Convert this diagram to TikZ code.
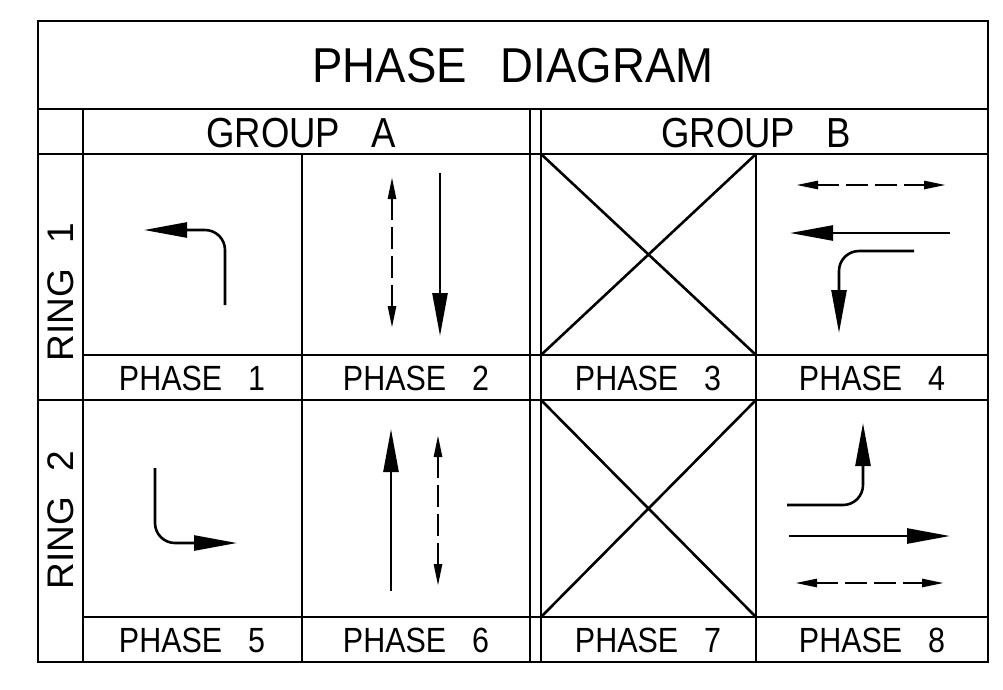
\documentclass[tikz,border=0pt]{standalone}
\usepackage{fontspec}
\setmainfont{Liberation Sans}
\usetikzlibrary{arrows.meta}
\newcommand\nar[1]{\scalebox{0.87}[1]{#1}}
\newcommand\narT[1]{\scalebox{0.93}[1]{#1}}
\begin{document}
\begin{tikzpicture}[x=1pt,y=-1pt,
  grid/.style={line width=2.6pt},
  arr/.style={line width=2.6pt, -{Triangle[length=43pt,width=15pt]}},
  darr/.style={line width=2.6pt, dash pattern=on 22pt off 7pt,
    {Triangle[length=22pt,width=8pt]}-{Triangle[length=22pt,width=8pt]}},
  title/.style={inner sep=0pt, font=\fontsize{49}{49}\selectfont},
  grp/.style={inner sep=0pt, font=\fontsize{42}{42}\selectfont},
  ring/.style={inner sep=0pt, rotate=90, font=\fontsize{37}{37}\selectfont},
  ph/.style={inner sep=0pt, font=\fontsize{35}{35}\selectfont},
]
\useasboundingbox (0,0) rectangle (1003,689);
% grid
\draw[grid] (38,21) rectangle (988,662);
\draw[grid] (38,109) -- (988,109);
\draw[grid] (38,154) -- (988,154);
\draw[grid] (83,355) -- (988,355);
\draw[grid] (38,400) -- (988,400);
\draw[grid] (83,617) -- (988,617);
\draw[grid] (83,109) -- (83,662);
\draw[grid] (302,154) -- (302,662);
\draw[grid] (530,109) -- (530,662);
\draw[grid] (541,109) -- (541,662);
\draw[grid] (756,154) -- (756,662);
% crosses
\draw[grid] (541,154) -- (756,355) (756,154) -- (541,355);
\draw[grid] (541,400) -- (756,617) (756,400) -- (541,617);
% texts
\node[title] (t) at (513,66) {\narT{PHASE\hspace{0.75em}DIAGRAM}};
\node[grp] (ga) at (301,133) {\nar{GROUP\hspace{0.85em}A}};
\node[grp] (gb) at (756,133) {\nar{GROUP\hspace{0.85em}B}};
\node[ring] (r1) at (61,292) {RING\hspace{0.7em}1};
\node[ring] (r2) at (61,520) {RING\hspace{0.7em}2};
\node[ph] (p1) at (192,378) {\nar{PHASE\hspace{0.85em}1}};
\node[ph] (p2) at (416,378) {\nar{PHASE\hspace{0.85em}2}};
\node[ph] (p3) at (648,378) {\nar{PHASE\hspace{0.85em}3}};
\node[ph] (p4) at (872,378) {\nar{PHASE\hspace{0.85em}4}};
\node[ph] (p5) at (192,640) {\nar{PHASE\hspace{0.85em}5}};
\node[ph] (p6) at (416,640) {\nar{PHASE\hspace{0.85em}6}};
\node[ph] (p7) at (648,640) {\nar{PHASE\hspace{0.85em}7}};
\node[ph] (p8) at (872,640) {\nar{PHASE\hspace{0.85em}8}};
% phase 1
\draw[arr, rounded corners=20pt] (225,305) -- (225,230) -- (144,230);
% phase 2
\draw[darr] (392,177) -- (392,328);
\draw[arr] (440,173) -- (440,336);
% phase 4
\draw[darr] (796,185) -- (946,185);
\draw[arr] (950,233) -- (790,233);
\draw[arr, rounded corners=20pt] (914,251) -- (839,251) -- (839,333);
% phase 5
\draw[arr, rounded corners=20pt] (155,468) -- (155,543) -- (237,543);
% phase 6
\draw[arr] (391,591) -- (391,429);
\draw[darr] (438,435) -- (438,586);
% phase 8
\draw[arr, rounded corners=20pt] (787,505) -- (863,505) -- (863,423);
\draw[arr] (789,536) -- (950,536);
\draw[darr] (795,583) -- (944,583);
\end{tikzpicture}
\end{document}
